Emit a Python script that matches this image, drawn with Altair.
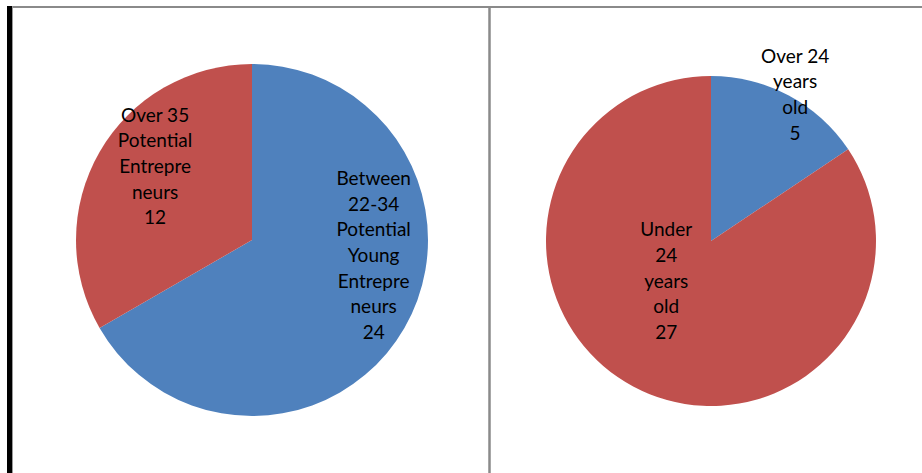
import altair as alt
import pandas as pd

# Left pie: age 22-34 vs over 35
left_labels = ["Between 22-34 Potential Young Entrepreneurs", "Over 35 Potential Entrepreneurs"]
left_text = ["Between\n22-34\nPotential\nYoung\nEntrepre\nneurs\n24", "Over 35\nPotential\nEntrepre\nneurs\n12"]
left_values = [24, 12]

# Right pie: over 24 vs under 24
right_labels = ["Over 24 years old", "Under 24 years old"]
right_text = ["Over 24\nyears\nold\n5", "Under\n24\nyears\nold\n27"]
right_values = [5, 27]

colors = ["#4F81BD", "#C0504D"]

left_df = pd.DataFrame({"label": left_labels, "text": left_text, "value": left_values, "order": [0, 1]})
right_df = pd.DataFrame({"label": right_labels, "text": right_text, "value": right_values, "order": [0, 1]})
frame_df = pd.DataFrame({"k": [0]})

color_scale = alt.Scale(domain=left_labels + right_labels, range=[colors[0], colors[1], colors[0], colors[1]])
FONT = "Lato"
FS = 19
LH = 25.7


def pie(df, cx, cy, r):
    return alt.Chart(df).mark_arc(radius=r).encode(
        theta=alt.Theta("value:Q", stack=True),
        color=alt.Color("label:N", scale=color_scale, legend=None),
        order=alt.Order("order:Q"),
        x=alt.value(cx),
        y=alt.value(cy),
    )


def label(df, which, nlines, cx, cy, r, dx, dy):
    return alt.Chart(df).mark_text(
        radius=r, dx=dx, dy=dy - (nlines - 1) / 2 * LH, lineBreak="\n", font=FONT, fontSize=FS,
        color="black", align="center", baseline="middle", lineHeight=LH,
    ).encode(
        theta=alt.Theta("value:Q", stack=True),
        order=alt.Order("order:Q"),
        text=alt.condition(alt.datum.label == which, "text:N", alt.value("")),
        x=alt.value(cx),
        y=alt.value(cy),
    )


top_line = alt.Chart(frame_df).mark_rule(color="#8a8a8a", strokeWidth=2).encode(
    x=alt.value(13), x2=alt.value(922), y=alt.value(7))
left_bar = alt.Chart(frame_df).mark_rule(color="black", strokeWidth=5).encode(
    x=alt.value(9.5), y=alt.value(6), y2=alt.value(473))
left_gray = alt.Chart(frame_df).mark_rule(color="#9a9a9a", strokeWidth=1).encode(
    x=alt.value(12.5), y=alt.value(6), y2=alt.value(473))
divider = alt.Chart(frame_df).mark_rule(color="#8a8a8a", strokeWidth=2.5).encode(
    x=alt.value(489.5), y=alt.value(7), y2=alt.value(473))

chart = alt.layer(
    pie(left_df, 252, 240, 176),
    label(left_df, left_labels[0], 7, 252, 240, 122, 16, -45),
    label(left_df, left_labels[1], 5, 252, 240, 120, 7, -13),
    pie(right_df, 711, 241, 165),
    label(right_df, right_labels[0], 4, 711, 241, 170, 4, 4),
    label(right_df, right_labels[1], 5, 711, 241, 61, -16, -13),
    top_line, left_bar, left_gray, divider,
).resolve_scale(theta="independent").properties(
    width=922, height=473, padding=0, autosize=alt.AutoSizeParams(type="none"),
).configure_view(stroke=None)

chart.save("out.html", embed_options={"renderer": "svg", "actions": False})
